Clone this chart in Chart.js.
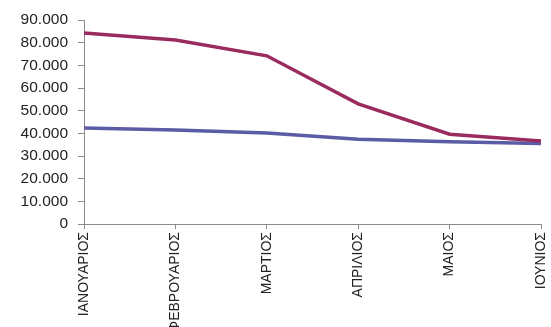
<!DOCTYPE html>
<html>
<head>
<meta charset="utf-8">
<style>
  html, body { margin: 0; padding: 0; background: #fff; }
  #wrap { width: 551px; height: 327px; }
</style>
</head>
<body>
<div id="wrap"><canvas id="chart" width="551" height="327"></canvas></div>
<script src="https://cdn.jsdelivr.net/npm/chart.js"></script>
<script>
const months = ['ΙΑΝΟΥΑΡΙΟΣ', 'ΦΕΒΡΟΥΑΡΙΟΣ', 'ΜΑΡΤΙΟΣ', 'ΑΠΡΙΛΙΟΣ', 'ΜΑΙΟΣ', 'ΙΟΥΝΙΟΣ'];
const redSeries = [84300, 81200, 74200, 53000, 39600, 36600];
const blueSeries = [42300, 41500, 40200, 37400, 36300, 35500];

const axisColor = '#8c8c8c';

new Chart(document.getElementById('chart').getContext('2d'), {
    type: 'line',
    data: {
        labels: months,
        datasets: [{
            data: redSeries,
            borderColor: '#9a2b5e',
            borderWidth: 3.5,
            pointRadius: 0,
            tension: 0,
            fill: false
        }, {
            data: blueSeries,
            borderColor: '#5a5ca5',
            borderWidth: 3.5,
            pointRadius: 0,
            tension: 0,
            fill: false
        }]
    },
    options: {
        responsive: false,
        animation: false,
        layout: { padding: { top: 20, right: 10, left: 0, bottom: 0 } },
        plugins: { legend: { display: false }, tooltip: { enabled: false } },
        scales: {
            x: {
                offset: false,
                afterFit: s => { s.height = 103; s.paddingRight = 0; s.paddingLeft = 0; },
                grid: { drawOnChartArea: false, drawTicks: true, tickLength: 5, color: axisColor },
                border: { display: true, color: axisColor, width: 1 },
                ticks: {
                    minRotation: 90,
                    maxRotation: 90,
                    autoSkip: false,
                    color: '#222',
                    padding: 3,
                    font: { family: 'Liberation Sans, Arial, sans-serif', size: 14 }
                }
            },
            y: {
                min: 0,
                max: 90000,
                afterFit: s => { s.width = 84; },
                grid: { drawOnChartArea: false, drawTicks: true, tickLength: 6, color: axisColor },
                border: { display: true, color: axisColor, width: 1 },
                ticks: {
                    stepSize: 10000,
                    autoSkip: false,
                    color: '#222',
                    padding: 10,
                    font: { family: 'Liberation Sans, Arial, sans-serif', size: 15.5 },
                    callback: v => v === 0 ? '0' : String(v).replace(/\B(?=(\d{3})+(?!\d))/g, '.')
                }
            }
        }
    }
});
</script>
</body>
</html>
